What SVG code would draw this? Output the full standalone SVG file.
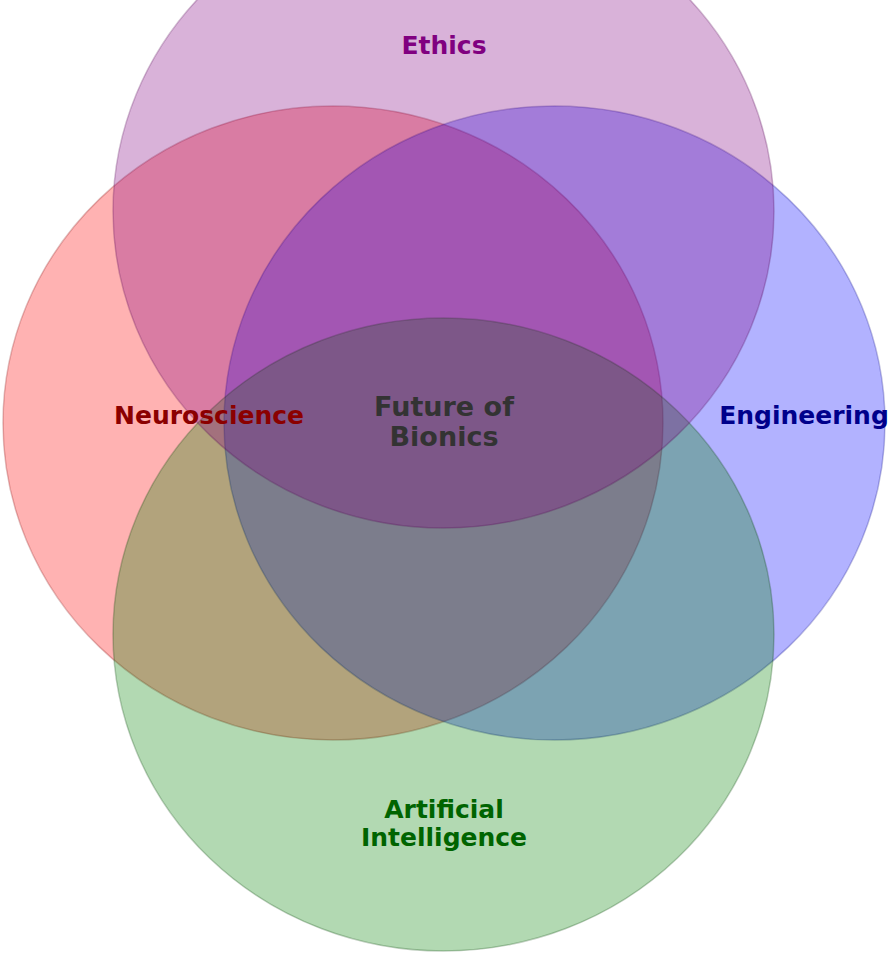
<svg xmlns="http://www.w3.org/2000/svg" width="891" height="956" viewBox="0 0 891 956">
<style>
.set{stroke-width:1.5;fill-opacity:0.3;stroke-opacity:0.25}
.lbl{font-family:"DejaVu Sans","Liberation Sans",sans-serif;font-weight:bold;text-anchor:middle}
</style>
<rect width="891" height="956" fill="#ffffff"/>
<g id="neuroscience">
<ellipse class="set" cx="333" cy="423" rx="330" ry="317" fill="#ff0000" stroke="#800000"/>
</g>
<g id="engineering">
<ellipse class="set" cx="554.5" cy="423" rx="330.5" ry="317" fill="#0000ff" stroke="#000080"/>
</g>
<g id="ai">
<ellipse class="set" cx="443.5" cy="634.5" rx="330.5" ry="316.5" fill="#008000" stroke="#004000"/>
</g>
<g id="ethics">
<ellipse class="set" cx="443.5" cy="211" rx="330.5" ry="317" fill="#800080" stroke="#500050"/>
</g>
<g id="connectors"></g>
<g id="labels">
<text class="lbl" x="444" y="54" font-size="25" fill="#800080">Ethics</text>
<text class="lbl" x="209" y="424" font-size="25" fill="#8b0000">Neuroscience</text>
<text class="lbl" x="804" y="424" font-size="25" fill="#00008b">Engineering</text>
<text class="lbl" x="444" y="818" font-size="25" fill="#006400">Artificial</text>
<text class="lbl" x="444" y="846" font-size="25" fill="#006400">Intelligence</text>
</g>
<g id="center">
<text class="lbl" x="444" y="416" font-size="27" fill="#333333">Future of</text>
<text class="lbl" x="444" y="446" font-size="27" fill="#333333">Bionics</text>
</g>
</svg>
